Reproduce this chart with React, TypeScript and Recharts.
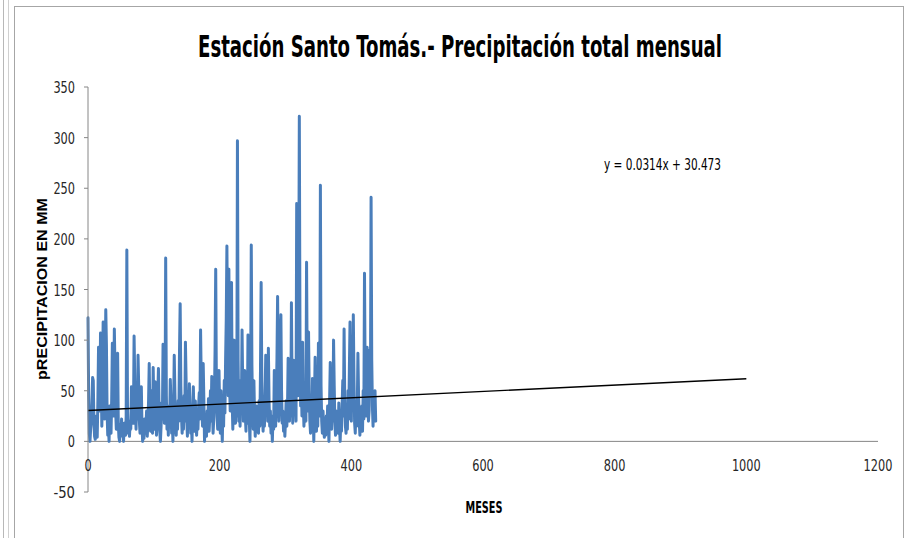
import { LineChart, Line, XAxis, YAxis, ReferenceLine } from "recharts";

// precipitación total mensual (mm), un valor por mes desde el mes 0
const precipitacion = [
  122, 45, 8, 0, 12, 20, 38, 63, 60, 18, 5, 2,
  10, 25, 4, 40, 93, 55, 30, 107, 70, 15, 48, 118,
  80, 22, 60, 130, 95, 28, 6, 14, 0, 35, 20, 8,
  42, 97, 65, 25, 111, 72, 30, 12, 50, 87, 18, 4,
  0, 16, 8, 22, 5, 12, 0, 18, 10, 6, 25, 189,
  30, 8, 14, 5, 20, 12, 54, 28, 40, 18, 104, 60,
  35, 12, 48, 22, 85, 55, 20, 8, 30, 54, 15, 0,
  12, 3, 22, 8, 15, 30, 5, 18, 40, 77, 25, 10,
  50, 20, 8, 73, 35, 12, 59, 28, 6, 20, 45, 72,
  30, 10, 0, 15, 38, 22, 96, 50, 18, 30, 181, 45,
  12, 28, 6, 35, 15, 61, 40, 8, 22, 0, 30, 85,
  48, 18, 6, 25, 12, 40, 20, 90, 136, 55, 25, 8,
  30, 12, 45, 20, 98, 60, 22, 5, 35, 15, 57, 28,
  8, 20, 0, 30, 54, 25, 10, 40, 18, 6, 28, 12,
  35, 48, 22, 110, 60, 30, 15, 77, 40, 0, 25, 12,
  5, 30, 18, 42, 10, 25, 50, 20, 64, 35, 8, 22,
  40, 90, 170, 55, 25, 12, 48, 70, 30, 8, 50, 18,
  0, 35, 15, 60, 28, 80, 120, 193, 100, 45, 170, 60,
  30, 90, 157, 40, 12, 55, 100, 35, 18, 60, 25, 297,
  80, 20, 45, 15, 60, 30, 110, 55, 20, 35, 70, 25,
  10, 40, 18, 105, 60, 22, 0, 50, 194, 75, 30, 12,
  60, 25, 5, 18, 35, 10, 28, 8, 40, 15, 70, 157,
  60, 25, 10, 35, 15, 45, 85, 30, 55, 20, 92, 40,
  15, 30, 8, 20, 0, 25, 12, 70, 35, 15, 40, 80,
  143, 60, 20, 45, 95, 125, 50, 18, 30, 10, 25, 5,
  20, 40, 15, 30, 82, 45, 20, 60, 25, 137, 50, 18,
  40, 80, 30, 65, 20, 235, 90, 45, 110, 321, 100, 35,
  60, 25, 98, 40, 15, 30, 55, 20, 177, 65, 30, 108,
  50, 20, 8, 30, 12, 62, 25, 0, 40, 83, 28, 10,
  35, 15, 97, 60, 25, 253, 55, 20, 8, 30, 12, 4,
  18, 6, 25, 10, 35, 15, 0, 40, 78, 30, 12, 45,
  20, 100, 55, 18, 6, 30, 12, 25, 8, 38, 15, 0,
  20, 10, 35, 60, 25, 111, 40, 15, 8, 30, 12, 50,
  22, 70, 118, 45, 20, 85, 35, 125, 60, 18, 8, 40,
  15, 30, 87, 45, 20, 6, 25, 12, 35, 10, 50, 22,
  166, 60, 25, 40, 93, 55, 20, 30, 90, 45, 241, 80,
  35, 15, 45, 25, 50, 20,
];

const ticksMeses = [0, 200, 400, 600, 800, 1000, 1200];
const ticksPrecip = [-50, 0, 50, 100, 150, 200, 250, 300, 350];

// línea de tendencia lineal de Excel
const pendiente = 0.0314;
const intercepto = 30.473;
const tramoTendencia = [0, 1000];

const titulo = "Estación Santo Tomás.- Precipitación total mensual";
const ecuacion = "y = 0.0314x + 30.473";

const datos = precipitacion.map((valor, mes) => ({ mes, valor }));

const angosta = "'Liberation Sans Narrow', 'DejaVu Sans Condensed', 'Arial Narrow', sans-serif";
const arial = "'Liberation Sans', Arial, sans-serif";

// el original es una captura comprimida a lo ancho: letras altas y angostas
const anchoDigito = 7.2;

const TickMes = (props: any) => {
  const { x, y, payload } = props;
  const t = String(payload.value);
  return (
    <text
      x={x}
      y={y - 29}
      textAnchor="middle"
      fontSize={16}
      fontFamily={angosta}
      fill="#262626"
      textLength={t.length * anchoDigito}
      lengthAdjust="spacingAndGlyphs"
    >
      {t}
    </text>
  );
};

const TickPrecip = (props: any) => {
  const { x, y, payload } = props;
  const t = String(payload.value);
  return (
    <text
      x={x + 1}
      y={y + 6}
      textAnchor="end"
      fontSize={16}
      fontFamily={angosta}
      fill="#262626"
      textLength={t.length * anchoDigito}
      lengthAdjust="spacingAndGlyphs"
    >
      {t}
    </text>
  );
};

const App = () => {
  return (
    <div style={{ position: "absolute", left: 0, top: 0, width: 914, height: 538, background: "#fff", overflow: "hidden" }}>
      <div style={{ position: "absolute", left: 3, top: 0, width: 1, height: 538, background: "#b8b8b8" }} />
      <div style={{ position: "absolute", left: 8, top: 0, width: 1, height: 538, background: "#d0d0d0" }} />
      <div
        style={{
          position: "absolute",
          left: 14,
          top: 6,
          width: 890,
          height: 560,
          border: "1px solid #a6a6a6",
          boxSizing: "border-box",
        }}
      />
      <LineChart
        width={914}
        height={538}
        data={datos}
        margin={{ top: 87, right: 36, left: 28, bottom: 26 }}
        style={{ position: "absolute", left: 0, top: 0 }}
      >
        <XAxis
          dataKey="mes"
          type="number"
          domain={[0, 1200]}
          ticks={ticksMeses}
          height={20}
          axisLine={false}
          tickLine={false}
          tick={<TickMes />}
          interval={0}
        />
        <YAxis
          type="number"
          domain={[-50, 350]}
          ticks={ticksPrecip}
          width={60}
          interval={0}
          axisLine={{ stroke: "#868686" }}
          tickLine={{ stroke: "#868686" }}
          tickSize={4}
          tickMargin={10}
          tick={<TickPrecip />}
        />
        <ReferenceLine y={0} stroke="#868686" strokeWidth={1} />
        <Line
          type="linear"
          dataKey="valor"
          stroke="#4a7ebb"
          strokeWidth={3}
          strokeLinejoin="round"
          strokeLinecap="round"
          dot={false}
          activeDot={false}
          isAnimationActive={false}
        />
        <ReferenceLine
          segment={tramoTendencia.map((m) => ({ x: m, y: pendiente * m + intercepto }))}
          stroke="#000"
          strokeWidth={1.3}
        />
      </LineChart>
      <svg width={914} height={538} style={{ position: "absolute", left: 0, top: 0, pointerEvents: "none" }}>
        <text
          x={460}
          y={57}
          textAnchor="middle"
          fontSize={31}
          fontWeight="bold"
          fontFamily={angosta}
          fill="#000"
          textLength={524}
          lengthAdjust="spacingAndGlyphs"
        >
          {titulo}
        </text>
        <text
          x={42}
          y={289}
          transform="rotate(-90 42 289)"
          textAnchor="middle"
          dominantBaseline="central"
          fontSize={14}
          fontWeight="bold"
          fontFamily={arial}
          fill="#000"
          textLength={182}
          lengthAdjust="spacingAndGlyphs"
        >
          pRECIPITACION EN MM
        </text>
        <text
          x={484}
          y={513}
          textAnchor="middle"
          fontSize={15}
          fontWeight="bold"
          fontFamily={angosta}
          fill="#000"
          textLength={37}
          lengthAdjust="spacingAndGlyphs"
        >
          MESES
        </text>
        <text
          x={604}
          y={170}
          fontSize={15}
          fontFamily={angosta}
          fill="#000"
          textLength={117}
          lengthAdjust="spacingAndGlyphs"
        >
          {ecuacion}
        </text>
      </svg>
    </div>
  );
};

export default App;
